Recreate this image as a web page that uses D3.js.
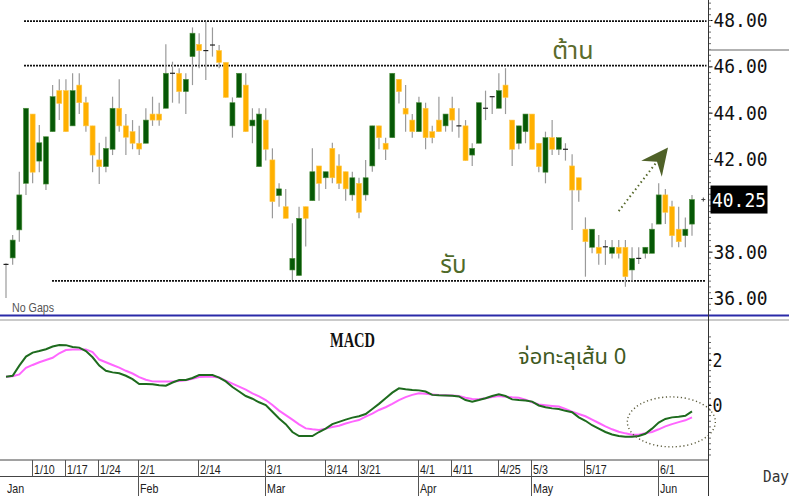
<!DOCTYPE html>
<html>
<head>
<meta charset="utf-8">
<script src="https://cdn.jsdelivr.net/npm/d3@7/dist/d3.min.js"></script>
<style>
  body { margin: 0; background: #fff; }
  svg { display: block; }
</style>
</head>
<body>
<svg width="789" height="496"></svg>
<script>
// ข้อมูลราคา (วันทำการ 4 ม.ค. - 9 มิ.ย.)
const opens = [37.45,37.73,38.94,40.95,43.94,41.91,40.92,43.18,44.95,44.95,43.43,45.19,44.43,43.43,41.96,41.67,42.42,44.19,43.43,43.18,
  42.68,42.68,43.94,43.94,44.19,45.70,45.70,44.91,46.42,46.95,46.68,46.92,46.68,46.17,43.43,44.66,45.19,43.43,41.67,43.68,
  41.96,40.42,39.94,37.21,36.97,39.94,40.20,41.70,41.19,42.46,41.70,41.45,40.45,40.95,40.45,41.70,43.43,42.68,42.92,45.44,
  44.19,43.68,43.18,44.19,43.18,43.68,43.43,44.19,43.43,43.43,42.17,42.68,44.19,44.69,44.19,45.19,43.68,42.68,43.18,43.94,
  42.68,41.43,42.92,42.42,42.42,41.70,41.19,38.97,38.19,38.19,38.21,37.93,38.19,38.19,37.21,37.71,37.93,37.93,39.19,40.45,
  39.94,38.97,38.69,39.19];
const highs = [37.50,38.72,41.45,44.19,43.94,43.47,42.96,45.19,45.44,45.44,45.70,45.70,44.69,43.43,42.70,42.96,44.69,45.44,43.94,43.68,
  43.43,44.19,44.69,44.43,46.95,46.20,45.92,45.70,47.68,47.43,47.93,47.68,46.92,46.17,44.66,45.70,45.70,44.19,44.19,44.19,
  42.46,40.95,40.71,39.23,39.94,39.94,42.46,41.70,41.45,42.70,42.20,41.45,41.45,41.19,41.96,43.43,43.43,42.92,45.70,45.44,
  45.19,43.94,44.69,44.43,43.43,44.69,43.94,44.69,44.19,43.68,42.68,44.43,44.95,44.69,45.70,45.92,43.68,43.43,43.94,43.94,
  42.68,43.18,43.68,42.92,42.68,42.20,41.19,39.48,38.97,38.72,38.50,38.50,38.50,38.50,38.19,38.19,38.19,39.23,40.95,40.71,
  40.20,39.94,39.48,40.45];
const lows = [36.00,37.43,38.43,40.45,40.95,41.43,40.66,43.18,43.68,43.18,43.43,43.94,43.18,41.43,40.92,41.43,42.17,43.18,42.17,42.42,
  42.17,42.68,43.43,43.43,44.19,44.43,44.40,43.94,45.19,45.92,45.41,46.42,45.92,44.66,42.92,44.66,43.18,42.68,41.67,41.93,
  39.44,39.94,39.44,36.78,36.97,38.22,40.20,40.20,40.71,40.95,40.71,40.20,40.20,39.44,40.20,41.45,42.42,41.96,42.92,44.40,
  43.18,42.92,43.18,42.42,42.68,43.18,43.18,43.18,42.92,41.93,41.70,42.68,43.68,43.94,44.19,43.94,41.70,42.42,42.68,42.42,
  41.43,40.95,42.17,42.17,41.93,38.94,40.16,36.92,37.93,37.43,37.43,37.71,37.71,36.49,36.71,37.47,37.71,37.93,39.19,39.19,
  38.19,38.19,38.19,38.69];
const closes = [37.45,38.50,40.45,44.19,41.43,42.70,42.96,44.69,44.40,43.18,44.95,44.43,43.43,42.17,41.67,42.46,44.19,43.43,42.94,42.68,
  42.43,43.68,43.68,43.68,45.70,45.70,44.91,45.44,47.43,46.68,46.68,46.92,46.17,44.66,44.43,45.70,43.18,43.68,43.94,42.42,
  40.16,40.71,39.44,37.71,39.44,39.44,41.45,40.95,41.45,41.19,40.95,40.71,41.19,39.70,41.19,43.43,42.92,42.42,45.70,44.91,
  43.94,43.18,44.43,42.92,42.92,43.18,43.94,43.68,43.43,41.93,42.46,44.43,44.19,44.69,44.95,44.66,42.42,43.43,43.94,42.42,
  41.67,42.92,42.42,42.92,42.42,40.66,40.66,38.43,38.97,37.93,38.21,38.19,37.93,36.92,37.71,37.71,38.19,38.97,40.45,39.70,
  38.69,38.43,38.97,40.25];

// MACD และเส้นสัญญาณ
const macdLine = [1.26,1.30,1.75,2.15,2.33,2.40,2.48,2.60,2.67,2.66,2.58,2.55,2.40,2.12,1.75,1.52,1.45,1.41,1.30,1.15,
  0.93,0.93,0.92,0.88,0.86,1.00,1.11,1.11,1.20,1.33,1.33,1.33,1.22,1.05,0.80,0.60,0.40,0.28,0.12,0.00,
  -0.30,-0.60,-0.85,-1.20,-1.38,-1.38,-1.38,-1.20,-1.05,-0.85,-0.75,-0.65,-0.56,-0.50,-0.40,-0.18,0.05,0.30,0.55,0.74,
  0.70,0.67,0.65,0.60,0.45,0.43,0.42,0.41,0.38,0.22,0.15,0.22,0.30,0.40,0.48,0.40,0.25,0.22,0.20,0.15,
  -0.02,-0.10,-0.15,-0.18,-0.26,-0.32,-0.55,-0.70,-0.90,-1.05,-1.20,-1.31,-1.38,-1.41,-1.41,-1.38,-1.28,-1.05,-0.78,-0.62,
  -0.55,-0.52,-0.48,-0.28];
const signalLine = [1.26,1.28,1.36,1.65,1.78,1.90,2.00,2.10,2.30,2.44,2.47,2.47,2.47,2.35,2.02,1.90,1.78,1.66,1.52,1.40,
  1.24,1.12,1.05,1.04,1.04,1.04,1.07,1.10,1.16,1.24,1.26,1.26,1.22,1.08,0.95,0.82,0.68,0.52,0.38,0.22,
  0.00,-0.25,-0.45,-0.65,-0.86,-1.04,-1.08,-1.11,-1.05,-0.98,-0.92,-0.82,-0.74,-0.67,-0.52,-0.38,-0.22,-0.10,0.05,0.22,
  0.35,0.45,0.52,0.50,0.47,0.44,0.43,0.42,0.40,0.32,0.27,0.26,0.30,0.36,0.40,0.37,0.34,0.32,0.24,0.12,
  0.02,-0.01,-0.04,-0.07,-0.18,-0.30,-0.40,-0.50,-0.65,-0.80,-0.95,-1.08,-1.19,-1.26,-1.32,-1.32,-1.26,-1.20,-1.08,-0.95,
  -0.85,-0.76,-0.68,-0.55];

// ป้ายแกน
const weekIdx = [4, 9, 14, 20, 29, 39, 48, 53, 62, 67, 74, 79, 87, 98];
const weekLabels = ["1/10","1/17","1/24","2/1","2/14","3/1","3/14","3/21","4/1","4/11","4/25","5/3","5/17","6/1"];
const monthIdx = [0, 20, 39, 62, 79, 98];
const monthLabels = ["Jan","Feb","Mar","Apr","May","Jun"];
const priceTicks = [36, 38, 42, 44, 46, 48]; // 40.00 ถูกป้ายราคาล่าสุดบัง
const macdTicks = [0, 2];
const lastPrice = 40.25;
// แนวต้าน / แนวรับ
const resistLevels = [47.95, 46.03];
const supportLevel = 36.74;

const svg = d3.select("svg");
const W = 789, H = 496;
const axisX = 708.5;

const x = d3.scaleLinear().domain([0, 103]).range([6, 692]);
const yP = d3.scaleLinear().domain([36, 48]).range([298, 20]);
const yM = d3.scaleLinear().domain([0, 2]).range([405, 360]);

const green = "#065806", orange = "#ffb000", olive = "#56692b";
const narrow = "'Liberation Sans Narrow', 'Liberation Sans', sans-serif";

// บีบตัวอักษรให้แคบลง (ไม่มีฟอนต์ narrow)
function squeeze(sel, k) {
  sel.each(function() {
    const w = this.getComputedTextLength();
    d3.select(this).attr("textLength", w * k).attr("lengthAdjust", "spacingAndGlyphs");
  });
}

// เส้นแบ่ง panel
svg.append("line").attr("x1", 0).attr("x2", W).attr("y1", 315.5).attr("y2", 315.5)
  .attr("stroke", "#2a2aa8").attr("stroke-width", 2.2);
svg.append("line").attr("x1", 0).attr("x2", W).attr("y1", 320).attr("y2", 320)
  .attr("stroke", "#b8b8b8").attr("stroke-width", 1.5);

// เส้นแนวต้าน แนวรับ (จุดประ)
resistLevels.forEach(v => {
  svg.append("line").attr("x1", 24).attr("x2", axisX - 2)
    .attr("y1", yP(v)).attr("y2", yP(v))
    .attr("stroke", "#111").attr("stroke-width", 1.6).attr("stroke-dasharray", "2,1");
});
svg.append("line").attr("x1", 52).attr("x2", axisX - 3)
  .attr("y1", yP(supportLevel)).attr("y2", yP(supportLevel))
  .attr("stroke", "#111").attr("stroke-width", 1.6).attr("stroke-dasharray", "2,1");

// แท่งเทียน
const idx = d3.range(opens.length);
const candles = svg.append("g");
idx.forEach(i => {
  const o = opens[i], c = closes[i];
  const doji = Math.abs(o - c) < 0.02;
  candles.append("line")
    .attr("x1", x(i)).attr("x2", x(i))
    .attr("y1", yP(highs[i])).attr("y2", yP(lows[i]))
    .attr("stroke", "#9a9a9a").attr("stroke-width", 1.2);
  if (doji) {
    candles.append("line")
      .attr("x1", x(i) - 2.5).attr("x2", x(i) + 2.5)
      .attr("y1", yP(o)).attr("y2", yP(o))
      .attr("stroke", "#222").attr("stroke-width", 1.2);
  } else {
    const top = yP(Math.max(o, c)), bot = yP(Math.min(o, c));
    candles.append("rect")
      .attr("x", x(i) - 2.5).attr("y", top)
      .attr("width", 5).attr("height", Math.max(1, bot - top))
      .attr("fill", c > o ? green : orange)
      .attr("stroke", c > o ? "#4c8f3c" : "#ffc94a").attr("stroke-width", 0.6);
  }
});

// ลูกศรชี้ขึ้น
const arrFrom = [92, 39.75], arrTip = [99.4, 42.5];
const ax0 = x(arrFrom[0]), ay0 = yP(arrFrom[1]), ax1 = x(arrTip[0]), ay1 = yP(arrTip[1]);
const len = Math.hypot(ax1 - ax0, ay1 - ay0);
const ux = (ax1 - ax0) / len, uy = (ay1 - ay0) / len;
const px = -uy, py = ux;
svg.append("line")
  .attr("x1", ax0).attr("y1", ay0)
  .attr("x2", ax1 - ux * 18).attr("y2", ay1 - uy * 18)
  .attr("stroke", olive).attr("stroke-width", 2).attr("stroke-dasharray", "1.5,3");
svg.append("path")
  .attr("d", d3.line()([
    [ax1, ay1],
    [ax1 - ux * 27 + px * 13, ay1 - uy * 27 + py * 13],
    [ax1 - ux * 18, ay1 - uy * 18],
    [ax1 - ux * 27 - px * 13, ay1 - uy * 27 - py * 13]
  ]) + "Z")
  .attr("fill", "#4f6128");

// ข้อความ
const thaiFont = "'Noto Sans Thai', 'Noto Sans', 'DejaVu Sans', sans-serif";
svg.append("text").attr("x", x(82)).attr("y", yP(46.3))
  .attr("font-family", thaiFont).attr("font-size", 25).attr("fill", "#5b6b2c").text("ต้าน");
svg.append("text").attr("x", x(65.2)).attr("y", yP(37.1))
  .attr("font-family", thaiFont).attr("font-size", 24).attr("fill", "#4f6a2a").text("รับ");
svg.append("text").attr("x", 12).attr("y", 312)
  .attr("font-family", narrow).attr("font-size", 13).attr("fill", "#555").text("No Gaps")
  .call(squeeze, 0.82);

// แกนราคา
const priceAxis = svg.append("g").attr("transform", `translate(${axisX},0)`)
  .call(d3.axisRight(yP).tickValues(priceTicks).tickFormat(d3.format(".2f"))
    .tickSizeInner(4).tickSizeOuter(0).tickPadding(1));
priceAxis.select(".domain").remove();
priceAxis.selectAll("text")
  .attr("font-family", "'DejaVu Sans Mono', monospace").attr("font-size", 20)
  .attr("fill", "#111").attr("textLength", 54).attr("lengthAdjust", "spacingAndGlyphs");
const minorP = svg.append("g").attr("transform", `translate(${axisX},0)`)
  .call(d3.axisRight(yP).tickValues(d3.range(35.5, 48.9, 0.25)).tickFormat("").tickSize(2.5).tickSizeOuter(0));
minorP.select(".domain").remove();
minorP.selectAll("line").attr("stroke", "#666");

svg.append("line").attr("x1", axisX).attr("x2", W).attr("y1", 50).attr("y2", 50)
  .attr("stroke", "#999").attr("stroke-width", 1.5);

// ป้ายราคาล่าสุด
svg.append("rect").attr("x", 710.5).attr("y", yP(lastPrice) - 14)
  .attr("width", 57).attr("height", 28).attr("fill", "#000");
svg.append("text").attr("x", 712).attr("y", yP(lastPrice)).attr("dy", "0.35em")
  .attr("font-family", "'DejaVu Sans Mono', monospace").attr("font-size", 20)
  .attr("fill", "#fff").attr("textLength", 54).attr("lengthAdjust", "spacingAndGlyphs")
  .text(lastPrice.toFixed(2));
svg.append("path")
  .attr("d", `M${x(104.7) - 2},${yP(lastPrice)}h4M${x(104.7)},${yP(lastPrice) - 2}v4`)
  .attr("stroke", "#444").attr("stroke-width", 1);

// MACD
svg.append("text").attr("x", 330).attr("y", 347)
  .attr("font-family", "'Liberation Serif', 'DejaVu Serif', serif").attr("font-weight", "bold")
  .attr("font-size", 20).attr("fill", "#111")
  .attr("textLength", 45).attr("lengthAdjust", "spacingAndGlyphs").text("MACD");
svg.append("text").attr("x", 518).attr("y", 364)
  .attr("font-family", thaiFont).attr("font-size", 22).attr("fill", "#3f5a1f").text("จ่อทะลุเส้น 0");

const lineM = d3.line().x((d, i) => x(i)).y(d => yM(d));
svg.append("path").datum(signalLine).attr("d", lineM)
  .attr("fill", "none").attr("stroke", "#ff66ff").attr("stroke-width", 2);
svg.append("path").datum(macdLine).attr("d", lineM)
  .attr("fill", "none").attr("stroke", "#1e6b1e").attr("stroke-width", 2);

svg.append("ellipse")
  .attr("cx", x(99.9)).attr("cy", yM(-0.75))
  .attr("rx", 44).attr("ry", 25)
  .attr("fill", "none").attr("stroke", "#5a5a3a").attr("stroke-width", 1.4)
  .attr("stroke-dasharray", "1.2,2.6");

const macdAxis = svg.append("g").attr("transform", `translate(${axisX},0)`)
  .call(d3.axisRight(yM).tickValues(macdTicks).tickFormat(d3.format("d"))
    .tickSizeInner(3).tickSizeOuter(0).tickPadding(1));
macdAxis.select(".domain").remove();
macdAxis.selectAll("text")
  .attr("font-family", "'DejaVu Sans Mono', monospace").attr("font-size", 19)
  .attr("fill", "#111").attr("textLength", 10).attr("lengthAdjust", "spacingAndGlyphs");
const minorM = svg.append("g").attr("transform", `translate(${axisX},0)`)
  .call(d3.axisRight(yM).tickValues(d3.range(-2.2, 3.2, 0.25)).tickFormat("").tickSize(2.5).tickSizeOuter(0));
minorM.select(".domain").remove();
minorM.selectAll("line").attr("stroke", "#666");

// แกนเวลา
const dateG = svg.append("g");
[460, 476.5].forEach(yy => {
  dateG.append("line").attr("x1", 0).attr("x2", axisX).attr("y1", yy).attr("y2", yy)
    .attr("stroke", "#444").attr("stroke-width", 1);
});
weekIdx.forEach((i, k) => {
  const xx = Math.round(x(i)) - 0.5;
  dateG.append("line").attr("x1", xx).attr("x2", xx).attr("y1", 460).attr("y2", 476.5)
    .attr("stroke", "#555");
  dateG.append("text").attr("x", xx + 1.5).attr("y", 474)
    .attr("font-family", narrow).attr("font-size", 13).attr("fill", "#222").text(weekLabels[k])
    .call(squeeze, 0.82);
});
monthIdx.forEach((i, k) => {
  const xx = Math.round(x(i)) - 0.5;
  if (k > 0) {
    dateG.append("line").attr("x1", xx).attr("x2", xx).attr("y1", 460).attr("y2", H)
      .attr("stroke", "#555");
  }
  dateG.append("text").attr("x", xx + 1.5).attr("y", 493)
    .attr("font-family", narrow).attr("font-size", 13).attr("fill", "#222").text(monthLabels[k])
    .call(squeeze, 0.82);
});
svg.append("text").attr("x", 763).attr("y", 482)
  .attr("font-family", "'DejaVu Sans Mono', monospace").attr("font-size", 15)
  .attr("fill", "#333").attr("textLength", 26).attr("lengthAdjust", "spacingAndGlyphs").text("Day");

// เส้นแกนขวา
svg.append("line").attr("x1", axisX).attr("x2", axisX).attr("y1", 0).attr("y2", H)
  .attr("stroke", "#333").attr("stroke-width", 1);
</script>
</body>
</html>
